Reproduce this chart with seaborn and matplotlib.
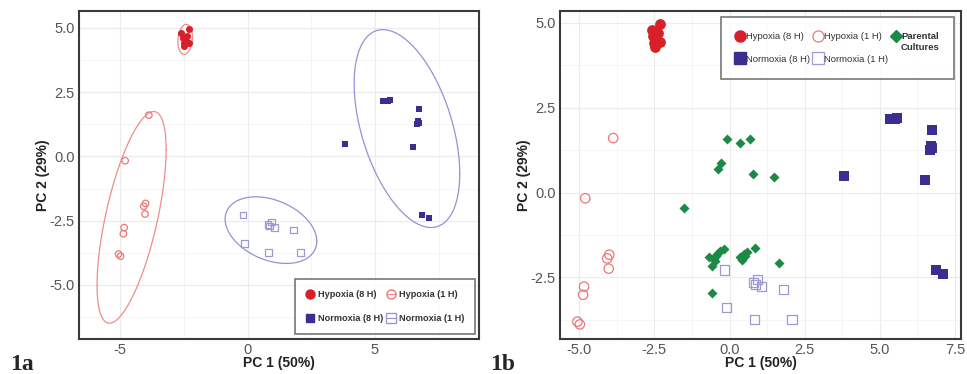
import numpy as np
import pandas as pd
import matplotlib
matplotlib.use("Agg")
import matplotlib.pyplot as plt
from matplotlib.lines import Line2D
from matplotlib.ticker import MultipleLocator, FormatStrFormatter
import seaborn as sns

# ---------------- data ----------------
hyp8_x = [-2.31, -2.59, -2.37, -2.42, -2.31, -2.51, -2.48, -2.55]
hyp8_y = [4.95, 4.78, 4.69, 4.49, 4.42, 4.39, 4.29, 4.60]

hyp1_x = [-3.87, -4.80, -4.00, -4.07, -4.02, -4.84, -4.87, -5.06, -4.98]
hyp1_y = [1.60, -0.17, -1.83, -1.94, -2.24, -2.77, -3.01, -3.80, -3.88]

norm8_x = [5.33, 5.58, 5.50, 6.74, 6.70, 6.66, 6.72, 6.51, 3.82, 6.86, 7.11]
norm8_y = [2.16, 2.19, 2.17, 1.85, 1.36, 1.24, 1.30, 0.37, 0.48, -2.28, -2.40]

norm1_x = [-0.18, 0.80, 0.94, 1.06, 0.86, 1.80, -0.11, 0.82, 2.08]
norm1_y = [-2.28, -2.65, -2.56, -2.77, -2.70, -2.86, -3.39, -3.73, -3.73]

par_x = [-0.09, 0.36, 0.69, -0.28, -0.37, 0.78, 1.47, -1.51,
         -0.67, -0.53, -0.42, -0.31, -0.20, -0.48, -0.59, -0.45,
         0.36, 0.47, 0.58, 0.42, 0.52, 0.86, 1.66, -0.60]
par_y = [1.56, 1.46, 1.57, 0.87, 0.68, 0.54, 0.45, -0.45,
         -1.89, -1.93, -1.81, -1.73, -1.66, -2.01, -2.16, -1.88,
         -1.89, -1.81, -1.76, -1.99, -1.86, -1.63, -2.07, -2.97]

labels_left = ["Hypoxia (8 H)", "Hypoxia (1 H)", "Normoxia (8 H)", "Normoxia (1 H)"]
labels_right = ["Hypoxia (8 H)", "Hypoxia (1 H)", "Parental", "Cultures",
                "Normoxia (8 H)", "Normoxia (1 H)"]

# ---------------- style ----------------
plt.rcParams["axes.unicode_minus"] = False
sns.set_style("white")
plt.rcParams["font.family"] = ["Liberation Sans", "DejaVu Sans"]

C_H8 = "#d8202a"
C_H1 = "#ec7777"
C_N8 = "#3a2f90"
C_N1 = "#9e99d6"
C_P = "#1b8a47"
C_EH = "#f08c8c"
C_EN = "#9393d2"


def cov_trob(X, nu=5, maxit=25, tol=0.01):
    n, p = X.shape
    wt = np.ones(n)
    loc = X.mean(0)
    w = np.sqrt(wt)
    for _ in range(maxit):
        w0 = w
        Xc = X - loc
        _, d, Vt = np.linalg.svd(np.sqrt(w / w.sum())[:, None] * Xc, full_matrices=False)
        wX = Xc @ Vt.T @ np.diag(1 / d)
        Q = (wX ** 2).sum(1)
        w = (wt * (nu + p)) / (nu + Q)
        loc = (w[:, None] * X).sum(0) / w.sum()
        if np.all(np.abs(w - w0) < tol):
            break
    cov = (np.sqrt(w)[:, None] * Xc).T @ (np.sqrt(w)[:, None] * Xc) / wt.sum()
    return loc, cov


def ellipse_pts(x, y, level=0.95, seg=120):
    X = np.column_stack([x, y])
    n = len(x)
    d2 = n - 1
    f = (d2 / 2.0) * ((1 - level) ** (-2.0 / d2) - 1)
    radius = np.sqrt(2 * f)
    center, shape = cov_trob(X)
    R = np.linalg.cholesky(shape).T
    ang = np.linspace(0, 2 * np.pi, seg + 1)
    circ = np.column_stack([np.cos(ang), np.sin(ang)])
    e = center + radius * circ @ R
    return e[:, 0], e[:, 1]


def style_axes(ax, xmaj, xmin_, xlim, ylim, xfmt):
    ax.set_xlim(*xlim)
    ax.set_ylim(*ylim)
    ax.xaxis.set_major_locator(MultipleLocator(xmaj))
    ax.xaxis.set_minor_locator(MultipleLocator(xmin_))
    ax.yaxis.set_major_locator(MultipleLocator(2.5))
    ax.yaxis.set_minor_locator(MultipleLocator(1.25))
    ax.xaxis.set_major_formatter(FormatStrFormatter(xfmt))
    ax.yaxis.set_major_formatter(FormatStrFormatter("%.1f"))
    ax.grid(True, which="major", color="#ebebeb", linewidth=0.8)
    ax.grid(True, which="minor", color="#f4f4f4", linewidth=0.6)
    ax.set_axisbelow(True)
    for s in ax.spines.values():
        s.set_color("#3a3a3a")
        s.set_linewidth(1.5)
    ax.tick_params(axis="both", which="major", labelsize=10.5, labelcolor="#555555",
                   color="#777777", length=2, width=0.8, pad=1)
    ax.tick_params(axis="both", which="minor", length=0)
    ax.set_xlabel("PC 1 (50%)", fontsize=10, fontweight="bold", color="#222222", labelpad=-1)
    ax.set_ylabel("PC 2 (29%)", fontsize=10, fontweight="bold", color="#222222", labelpad=0)


fig = plt.figure(figsize=(9.67, 3.74), dpi=100)
axL = fig.add_axes([79 / 967, 35 / 374, 400 / 967, 328 / 374])
axR = fig.add_axes([560 / 967, 35 / 374, 401 / 967, 328 / 374])

# ---------------- left panel ----------------
for ex, ey, col in [(hyp8_x, hyp8_y, C_EH), (hyp1_x, hyp1_y, C_EH),
                    (norm8_x, norm8_y, C_EN), (norm1_x, norm1_y, C_EN)]:
    px, py = ellipse_pts(np.array(ex), np.array(ey))
    axL.plot(px, py, color=col, linewidth=0.9, zorder=2)

sns.scatterplot(x=hyp1_x, y=hyp1_y, ax=axL, marker="o", s=22, facecolor="none",
                edgecolor=C_H1, linewidth=0.9, zorder=3)
sns.scatterplot(x=norm1_x, y=norm1_y, ax=axL, marker="s", s=22, facecolor="none",
                edgecolor=C_N1, linewidth=0.9, zorder=3)
sns.scatterplot(x=hyp8_x, y=hyp8_y, ax=axL, marker="o", s=26, color=C_H8,
                edgecolor=C_H8, linewidth=0, zorder=4)
sns.scatterplot(x=norm8_x, y=norm8_y, ax=axL, marker="s", s=22, color=C_N8,
                edgecolor=C_N8, linewidth=0, zorder=4)

style_axes(axL, 5, 2.5, (-6.61, 9.08), (-7.1, 5.65), "%d")

hL = [Line2D([], [], marker="o", color=C_H8, linestyle="none", markersize=6.5),
      Line2D([], [], marker="s", color=C_N8, linestyle="none", markersize=6),
      Line2D([], [], marker="o", color=C_EH, markerfacecolor="none", markeredgecolor=C_H1,
             linestyle="-", linewidth=0.8, markersize=6.5),
      Line2D([], [], marker="s", color=C_EN, markerfacecolor="none", markeredgecolor=C_N1,
             linestyle="-", linewidth=0.8, markersize=6.5)]
lL = [labels_left[0], labels_left[2], labels_left[1], labels_left[3]]
legL = axL.legend(hL, lL, ncol=2, loc="lower right", bbox_to_anchor=(0.99, 0.015),
                  frameon=True, fancybox=False, prop={"size": 6.6, "weight": "bold"},
                  handlelength=1.0, handletextpad=0.3, columnspacing=0.4,
                  labelspacing=1.6, borderpad=1.2, borderaxespad=0)
legL.get_frame().set_edgecolor("#555555")
legL.get_frame().set_linewidth(1.2)
for t in legL.get_texts():
    t.set_color("#333333")

# ---------------- right panel ----------------
sns.scatterplot(x=hyp1_x, y=hyp1_y, ax=axR, marker="o", s=46, facecolor="none",
                edgecolor=C_H1, linewidth=0.9, zorder=3)
sns.scatterplot(x=norm1_x, y=norm1_y, ax=axR, marker="s", s=44, facecolor="none",
                edgecolor=C_N1, linewidth=0.9, zorder=3)
sns.scatterplot(x=par_x, y=par_y, ax=axR, marker="D", s=26, color=C_P,
                edgecolor=C_P, linewidth=0, zorder=4)
sns.scatterplot(x=hyp8_x, y=hyp8_y, ax=axR, marker="o", s=60, color=C_H8,
                edgecolor=C_H8, linewidth=0, zorder=4)
sns.scatterplot(x=norm8_x, y=norm8_y, ax=axR, marker="s", s=42, color=C_N8,
                edgecolor=C_N8, linewidth=0, zorder=4)

style_axes(axR, 2.5, 1.25, (-5.64, 7.7), (-4.31, 5.34), "%.1f")

hR = [Line2D([], [], marker="o", color=C_H8, linestyle="none", markersize=8),
      Line2D([], [], marker="s", color=C_N8, linestyle="none", markersize=8),
      Line2D([], [], marker="o", color=C_H1, markerfacecolor="none", linestyle="none",
             markersize=8, markeredgewidth=0.9),
      Line2D([], [], marker="s", color=C_N1, markerfacecolor="none", linestyle="none",
             markersize=8, markeredgewidth=0.9),
      Line2D([], [], marker="D", color=C_P, linestyle="none", markersize=6)]
lR = [labels_right[0], labels_right[4], labels_right[1], labels_right[5], labels_right[2]]
legR = axR.legend(hR, lR, ncol=3, loc="upper right", bbox_to_anchor=(0.983, 0.982),
                  frameon=True, fancybox=False, prop={"size": 6.8},
                  handlelength=0.9, handletextpad=0.15, columnspacing=0.4,
                  labelspacing=1.45, borderpad=1.6, borderaxespad=0)
legR.get_frame().set_edgecolor("#555555")
legR.get_frame().set_linewidth(1.2)
par_text = None
for t in legR.get_texts():
    t.set_color("#333333")
    if t.get_text() == labels_right[2]:
        t.set_fontweight("bold")
        par_text = t
axR.annotate(labels_right[3], xy=(0.5, 0.0), xycoords=par_text,
             xytext=(0, -1.5), textcoords="offset points", ha="center", va="top",
             fontsize=6.8, fontweight="bold", color="#333333", zorder=10)

# ---------------- panel labels ----------------
fig.text(10 / 967, 1 - 370 / 374, "1a", fontsize=17, fontweight="bold",
         family="Liberation Serif", ha="left", va="baseline")
fig.text(490 / 967, 1 - 370 / 374, "1b", fontsize=17, fontweight="bold",
         family="Liberation Serif", ha="left", va="baseline")

fig.savefig("out.png", dpi=100, facecolor="white")
